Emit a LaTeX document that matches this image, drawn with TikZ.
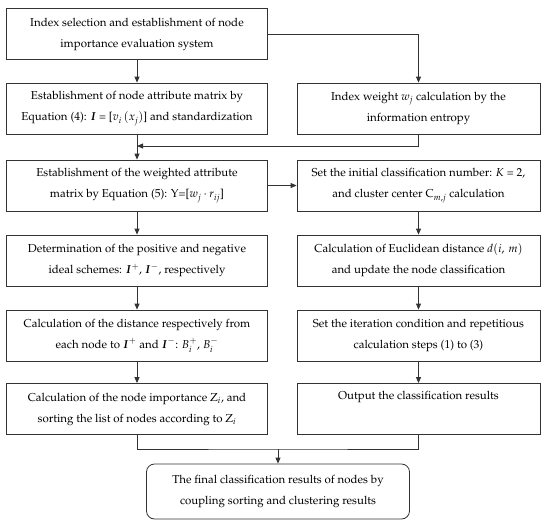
\documentclass[tikz,border=0pt]{standalone}
\usepackage[T1]{fontenc}
\usepackage{mathpazo}
\usepackage{bm}
\usetikzlibrary{arrows.meta, positioning}
\tikzset{
        arr/.style={-{Triangle[width=5pt,length=6pt]}}, % arrow tip of the flow
        line/.style={-},
        box/.style={draw=black!80, line width=0.8pt, align=center, inner sep=1pt,
                    minimum height=51pt, font=\fontsize{11.5}{21}\selectfont},
        lbox/.style={box, minimum width=261pt},
        rbox/.style={box, minimum width=243pt},
    }

\begin{document}
\begin{tikzpicture}[x=1pt, y=-1pt, draw=black!80, line width=0.8pt]
    \useasboundingbox (0,0) rectangle (550,528);
    % left column
    \node[lbox] (top) at (137,34) {Index selection and establishment of node\\importance evaluation system};
    \node[lbox] (a2) at (137,108.5) {Establishment of node attribute matrix by\\Equation (4): $\bm{I}$ = [$v_i\,(x_j)$] and standardization};
    \node[lbox] (a3) at (137,185.5) {Establishment of the weighted attribute\\matrix by Equation (5): Y=[$w_j \cdot r_{ij}$]};
    \node[lbox] (a4) at (137,260.5) {Determination of the positive and negative\\ideal schemes: $\bm{I}^{+}$, $\bm{I}^{-}$, respectively};
    \node[lbox] (a5) at (137,335.5) {Calculation of the distance respectively from\\each node to $\bm{I}^{+}$ and $\bm{I}^{-}$: $B_i^{+}$, $B_i^{-}$};
    \node[lbox] (a6) at (137,409) {Calculation of the node importance Z$_i$, and\\sorting the list of nodes according to Z$_i$};
    % right column
    \node[rbox] (b2) at (418.5,108.5) {Index weight $w_j$ calculation by the\\information entropy};
    \node[rbox] (b3) at (418.5,185.5) {Set the initial classification number: $K$ = 2,\\and cluster center C$_{m,j}$ calculation};
    \node[rbox] (b4) at (418.5,260.5) {Calculation of Euclidean distance $d(i,\,m)$\\and update the node classification};
    \node[rbox] (b5) at (418.5,335.5) {Set the iteration condition and repetitious\\calculation steps (1) to (3)};
    \node[rbox] (b6) at (418.5,409) {Output the classification results\\\strut};
    % result
    \node[box, rounded corners=8pt, minimum width=263pt, minimum height=55pt] (fin) at (278,491.5)
        {The final classification results of nodes by\\coupling sorting and clustering results};
    \coordinate (m1) at (137,146);
    \coordinate (m2) at (278,449);
    \draw[arr] (top) -- (a2);
    \draw[arr] (top.east) -| (b2.north);
    \draw[arr] (a2) -- (a3);
    \draw[arr] (b2.south) |- (m1);
    \draw[arr] (a3) -- (b3);
    \draw[arr] (a3) -- (a4);
    \draw[arr] (a4) -- (a5);
    \draw[arr] (a5) -- (a6);
    \draw[arr] (b3) -- (b4);
    \draw[arr] (b4) -- (b5);
    \draw[arr] (b5) -- (b6);
    \draw[line] (a6.south) |- (m2) -| (b6.south);
    \draw[arr] (m2) -- (fin);
\end{tikzpicture}
\end{document}
